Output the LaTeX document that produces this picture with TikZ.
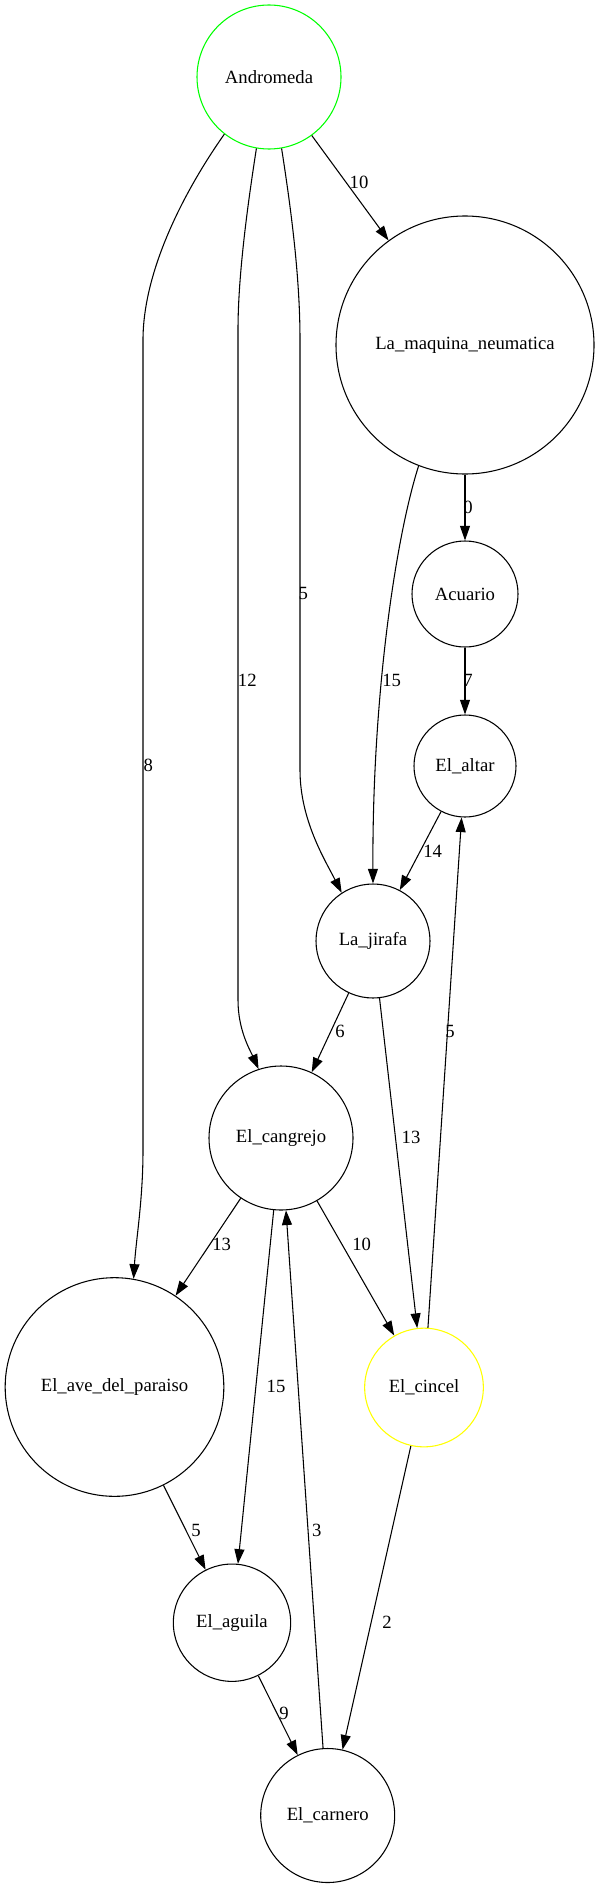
\documentclass[tikz,border=0pt]{standalone}
\usepackage{fontspec}
\setmainfont{Liberation Serif}
\usepackage{tikz}
\usetikzlibrary{arrows.meta}
\definecolor{gvGreen}{HTML}{00FF00}
\definecolor{gvYellow}{HTML}{FFFF00}

\begin{document}
\begin{tikzpicture}[
    x=0.75pt, y=-0.75pt,
    font=\fontsize{14}{16}\selectfont,
    state/.style={circle, draw=black, line width=0.8pt, inner sep=0pt},
    lbl/.style={inner sep=0pt},
    edge/.style={-{Triangle[length=11pt,width=7.5pt]}, line width=0.8pt}
  ]
    \useasboundingbox (0,0) rectangle (599,1887);
    \node[state, draw=gvGreen, minimum size=108pt] (andro) at (269,77) {Andromeda};
    \node[state, minimum size=193.5pt] (maq) at (465,345) {La\_maquina\_neumatica};
    \node[state, minimum size=79.5pt] (acu) at (465,594) {Acuario};
    \node[state, minimum size=76.5pt] (altar) at (465,766) {El\_altar};
    \node[state, minimum size=85.5pt] (jira) at (373,941) {La\_jirafa};
    \node[state, minimum size=108pt] (cang) at (281,1138) {El\_cangrejo};
    \node[state, minimum size=164pt] (ave) at (114.5,1387) {El\_ave\_del\_paraiso};
    \node[state, draw=gvYellow, minimum size=89pt] (cincel) at (424,1387.5) {El\_cincel};
    \node[state, minimum size=88pt] (aguila) at (232,1622.7) {El\_aguila};
    \node[state, minimum size=100.5pt] (carnero) at (327.7,1815.5) {El\_carnero};

    \draw[edge] (andro) -- (maq);
    \draw[edge] (andro.232) .. controls (185,190) and (143,270) .. (143,340) -- (143,1150) .. controls (143,1200) and (136,1240) .. (ave.80);
    \draw[edge] (andro.260) .. controls (246,215) and (238,280) .. (238,330) -- (238,1000) .. controls (238,1030) and (250,1050) .. (cang.108);
    \draw[edge] (andro.280) .. controls (292,215) and (300,280) .. (300,340) -- (300,770) .. controls (300,820) and (325,860) .. (jira.123);
    \draw[edge] (maq) -- (acu);
    \draw[edge] (maq.249) .. controls (395,540) and (372,700) .. (jira.90);
    \draw[edge] (acu) -- (altar);
    \draw[edge] (altar) -- (jira);
    \draw[edge] (jira) -- (cang);
    \draw[edge] (jira) -- (cincel);
    \draw[edge] (cincel) -- (altar);
    \draw[edge] (cang) -- (ave);
    \draw[edge] (cang) -- (aguila);
    \draw[edge] (cang) -- (cincel);
    \draw[edge] (carnero) -- (cang);
    \draw[edge] (ave) -- (aguila);
    \draw[edge] (cincel) -- (carnero);
    \draw[edge] (aguila) -- (carnero);

    \node[lbl] (l1) at (359,182) {10};
    \node[lbl] (l2) at (148.3,765) {8};
    \node[lbl] (l3) at (247.3,680.7) {12};
    \node[lbl] (l4) at (303.3,593.3) {5};
    \node[lbl] (l5) at (468,507) {0};
    \node[lbl] (l6) at (391.7,680) {15};
    \node[lbl] (l7) at (468,680.7) {7};
    \node[lbl] (l8) at (432.7,851.7) {14};
    \node[lbl] (l9) at (340,1031.7) {6};
    \node[lbl] (l10) at (411,1137.3) {13};
    \node[lbl] (l11) at (450,1031.7) {5};
    \node[lbl] (l12) at (221.7,1244) {13};
    \node[lbl] (l13) at (276,1386) {15};
    \node[lbl] (l14) at (361.7,1244) {10};
    \node[lbl] (l15) at (316.7,1530) {3};
    \node[lbl] (l16) at (196,1530) {5};
    \node[lbl] (l17) at (387,1622.7) {2};
    \node[lbl] (l18) at (284,1713) {9};
  \end{tikzpicture}
\end{document}
